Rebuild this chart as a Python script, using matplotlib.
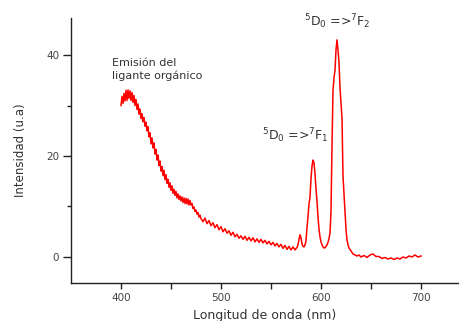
import matplotlib
matplotlib.use("Agg")
import matplotlib.pyplot as plt

plt.rcParams['font.family'] = ['DejaVu Sans']
plt.rcParams['mathtext.fontset'] = 'dejavusans'

wavelength = [
    400, 401, 402, 403, 404, 405, 406, 407, 408, 409, 410, 411, 412, 413, 414, 415, 416, 417, 418, 419,
    420, 421, 422, 423, 424, 425, 426, 427, 428, 429, 430, 431, 432, 433, 434, 435, 436, 437, 438, 439,
    440, 441, 442, 443, 444, 445, 446, 447, 448, 449, 450, 451, 452, 453, 454, 455, 456, 457, 458, 459,
    460, 461, 462, 463, 464, 465, 466, 467, 468, 469, 470, 471, 472, 473, 474, 475, 476, 477, 478, 479,
    480, 482, 484, 486, 488, 490, 492, 494, 496, 498, 500, 502, 504, 506, 508, 510, 512, 514, 516, 518,
    520, 522, 524, 526, 528, 530, 532, 534, 536, 538, 540, 542, 544, 546, 548, 550, 552, 554, 556, 558,
    560, 562, 564, 566, 568, 570, 572, 574, 576, 577, 578, 579, 580, 581, 582, 583, 584, 585, 586, 587,
    588, 589, 590, 591, 592, 593, 594, 595, 596, 597, 598, 599, 600, 601, 602, 603, 604, 605, 606, 607,
    608, 609, 610, 611, 612, 613, 614, 615, 616, 617, 618, 619, 620, 621, 622, 623, 624, 625, 626, 627,
    628, 630, 632, 634, 636, 638, 640, 643, 646, 649, 652, 655, 658, 661, 664, 667, 670, 673, 676, 679,
    682, 685, 688, 691, 694, 697, 700,
]
intensity = [
    30.0, 31.8, 30.4, 32.4, 30.9, 33.0, 31.0, 33.1, 31.4, 32.9, 31.0, 32.6, 30.6, 32.0, 30.0, 31.2, 29.2, 30.3, 28.3, 29.3,
    27.4, 28.4, 26.8, 27.6, 25.9, 26.7, 25.0, 25.8, 23.8, 24.6, 22.4, 23.6, 21.6, 22.6, 20.4, 21.3, 19.2, 20.2, 18.1, 19.0,
    17.0, 17.9, 16.1, 17.2, 15.3, 16.3, 14.6, 15.4, 13.8, 14.7, 13.2, 14.1, 12.6, 13.4, 12.2, 13.0, 11.7, 12.5, 11.4, 12.1,
    11.1, 11.9, 10.8, 11.7, 10.6, 11.6, 10.5, 11.5, 10.3, 11.2, 10.3, 10.6, 9.6, 9.9, 9.0, 9.3, 8.5, 8.8, 7.9, 8.3,
    7.6, 7.0, 7.7, 6.6, 7.2, 6.2, 6.8, 5.8, 6.4, 5.4, 6.0, 5.0, 5.6, 4.7, 5.2, 4.3, 4.9, 4.0, 4.5, 3.7,
    4.2, 3.5, 4.1, 3.3, 3.9, 3.2, 3.8, 3.0, 3.6, 2.9, 3.5, 2.8, 3.3, 2.6, 3.1, 2.4, 2.9, 2.2, 2.7, 2.0,
    2.5, 1.7, 2.3, 1.5, 2.1, 1.4, 2.0, 1.4, 1.9, 2.4, 3.5, 4.4, 3.8, 2.6, 2.1, 2.0, 2.4, 3.2, 5.8, 8.0,
    10.5, 11.8, 15.5, 18.0, 19.2, 18.6, 16.5, 13.5, 11.0, 8.0, 5.5, 4.0, 3.0, 2.4, 2.0, 1.8, 1.8, 2.1, 2.4, 2.9,
    3.6, 4.8, 9.0, 22.0, 33.0, 35.5, 37.0, 41.0, 43.0, 41.0, 38.5, 33.5, 30.5, 27.5, 16.0, 12.5, 8.7, 5.5, 3.4, 2.4,
    1.8, 1.2, 0.6, 0.4, 0.2, 0.4, 0.0, 0.3, -0.1, 0.4, 0.6, 0.1, 0.1, -0.3, -0.1, -0.4, -0.2, -0.5, -0.2, -0.4,
    0.0, -0.2, 0.2, 0.0, 0.4, 0.0, 0.2,
]
x_ticks = [400, 500, 600, 700]
y_ticks = [0, 20, 40]

text_col = '#333333'
fig = plt.figure(figsize=(4.59, 3.21), dpi=100)
ax = fig.add_axes([71/459, 1 - 283/321, 1 - 71/459, (283 - 18)/321])
ax.plot(wavelength, intensity, color='#ff0000', lw=1.1)

ax.set_xlim(350, 738)
ax.set_ylim(-5.15, 47.33)
ax.set_xticks(x_ticks)
ax.set_yticks(y_ticks)
ax.set_xticks([450, 550, 650], minor=True)
ax.set_yticks([10, 30], minor=True)
for s in ['top', 'right']:
    ax.spines[s].set_visible(False)
for s in ['left', 'bottom']:
    ax.spines[s].set_color('#222222')
    ax.spines[s].set_linewidth(1.0)
ax.tick_params(axis='x', which='major', direction='out', length=4, width=1, colors='#222222',
               labelcolor='#444444', labelsize=7.5, pad=3.5)
ax.tick_params(axis='x', which='minor', direction='out', length=4, width=1, colors='#222222')
ax.tick_params(axis='y', which='major', direction='out', length=6, width=1, colors='#222222',
               labelcolor='#444444', labelsize=7.5, pad=2.5)
ax.tick_params(axis='y', which='minor', direction='out', length=3, width=1, colors='#222222')

ax.set_xlabel('Longitud de onda (nm)', fontsize=9, color=text_col, labelpad=4)
ax.set_ylabel('Intensidad (u.a)', fontsize=8.5, color=text_col, labelpad=13.5)

ax.text(391, 39.4, 'Emisión del\nligante orgánico', fontsize=8, color=text_col,
        ha='left', va='top', linespacing=1.3)
ax.text(616, 45.7, r'$^{5}$D$_{0}$ =>$^{7}$F$_{2}$', fontsize=9, color=text_col,
        ha='center', va='baseline')
ax.text(574, 23.2, r'$^{5}$D$_{0}$ =>$^{7}$F$_{1}$', fontsize=9, color=text_col,
        ha='center', va='baseline')

fig.savefig('out.png', dpi=100)
